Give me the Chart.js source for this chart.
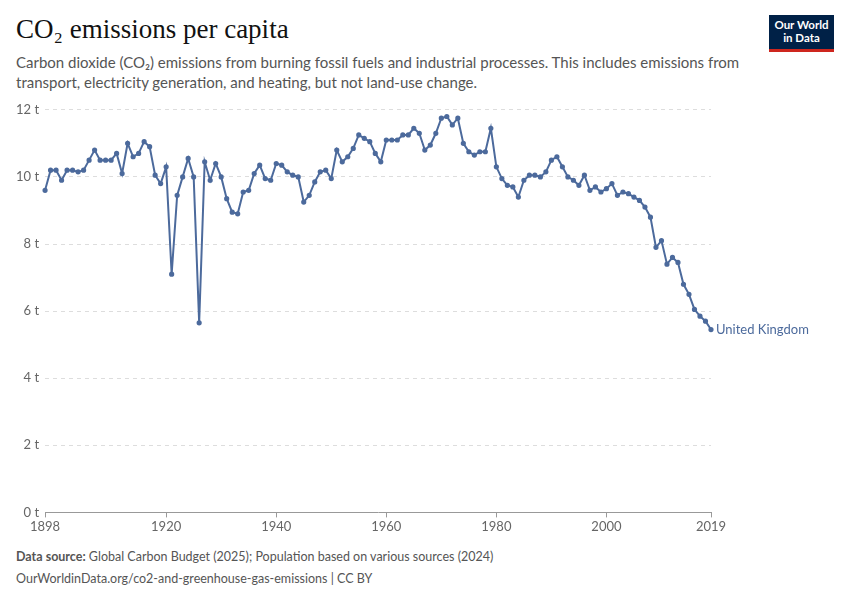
<!DOCTYPE html>
<html><head><meta charset="utf-8">
<script src="https://cdn.jsdelivr.net/npm/chart.js@4"></script>
<style>
body{margin:0;background:#fff;font-family:Lato,sans-serif;}
#wrap{position:relative;width:850px;height:600px;}
h1{position:absolute;left:16px;top:14px;margin:0;font-family:"Liberation Serif",serif;font-weight:normal;font-size:27px;color:#111;}
#sub{position:absolute;left:16px;top:52px;width:740px;font-size:15px;line-height:20px;color:#555;}
#logo{position:absolute;left:769px;top:15px;width:65px;height:37px;background:#002147;border-bottom:3px solid #ce261e;color:#fff;font-size:11.5px;line-height:13px;text-align:center;padding-top:3px;box-sizing:border-box;font-weight:bold;}
#foot{position:absolute;left:16px;top:546px;font-size:12.5px;color:#555;line-height:22px;}
canvas{position:absolute;left:0;top:0;}
</style></head><body><div id="wrap">
<h1>CO₂ emissions per capita</h1>
<div id="sub">Carbon dioxide (CO₂) emissions from burning fossil fuels and industrial processes. This includes emissions from transport, electricity generation, and heating, but not land-use change.</div>
<div id="logo">Our World<br>in Data</div>
<div id="foot"><b>Data source:</b> Global Carbon Budget (2025); Population based on various sources (2024)<br>OurWorldinData.org/co2-and-greenhouse-gas-emissions | CC BY</div>
<div style="position:absolute;left:0;top:96px;width:850px;height:441px;"><canvas id="c"></canvas></div>
</div>
<script>
const startYear = 1898;
const seriesName = "United Kingdom";
const values = [9.6,10.2,10.2,9.9,10.2,10.2,10.15,10.2,10.5,10.8,10.5,10.5,10.5,10.7,10.1,11.0,10.6,10.7,11.05,10.9,10.05,9.8,10.3,7.1,9.45,10.0,10.55,10.0,5.65,10.45,9.9,10.4,10.0,9.35,8.95,8.9,9.55,9.6,10.1,10.35,9.95,9.9,10.4,10.35,10.15,10.05,10.0,9.25,9.45,9.85,10.15,10.2,9.95,10.8,10.45,10.6,10.85,11.25,11.15,11.05,10.7,10.45,11.1,11.1,11.1,11.25,11.25,11.45,11.3,10.8,10.95,11.3,11.75,11.8,11.55,11.75,11.0,10.75,10.65,10.75,10.75,11.45,10.3,9.95,9.75,9.7,9.4,9.9,10.05,10.05,10.0,10.15,10.5,10.6,10.3,10.0,9.9,9.75,10.05,9.6,9.7,9.55,9.65,9.8,9.45,9.55,9.5,9.4,9.3,9.1,8.8,7.9,8.1,7.4,7.6,7.45,6.8,6.5,6.05,5.85,5.7,5.45];
const xTicks = [1898,1920,1940,1960,1980,2000,2019];
const yTicks = [0,2,4,6,8,10,12];
const pts = values.map((v,i)=>({x:startYear+i,y:v}));
const color = '#4c6a9c';
const endLabel = {id:'endLabel',afterDatasetsDraw(ch){const m=ch.getDatasetMeta(0).data;const p=m[m.length-1];const c=ch.ctx;c.save();c.font='13px Lato';c.fillStyle=color;c.textBaseline='middle';c.fillText(seriesName,p.x+5,p.y);c.restore();}};
new Chart(document.getElementById('c'),{type:'line',data:{datasets:[{data:pts,borderColor:color,backgroundColor:color,borderWidth:2,pointRadius:1.6,pointHoverRadius:1.6,tension:0,clip:false}]},
options:{responsive:true,maintainAspectRatio:false,animation:false,layout:{padding:{left:10,right:139,top:5,bottom:0}},
plugins:{legend:{display:false},tooltip:{enabled:false}},
scales:{x:{type:'linear',min:1898,max:2019,afterBuildTicks(a){a.ticks=xTicks.map(v=>({value:v}));},
ticks:{autoSkip:false,maxRotation:0,color:'#666',font:{family:'Lato',size:13},callback:v=>String(v),padding:2},grid:{display:true,drawOnChartArea:false,drawTicks:true,tickLength:5,color:'#999'},border:{color:'#999'}},
y:{min:0,max:12,afterBuildTicks(a){a.ticks=yTicks.map(v=>({value:v}));},ticks:{color:'#666',font:{family:'Lato',size:13},callback:v=>v+' t',padding:6},grid:{color:'#ddd',drawTicks:false},border:{display:false,dash:[4,4]}}}},plugins:[endLabel]});
</script></body></html>
